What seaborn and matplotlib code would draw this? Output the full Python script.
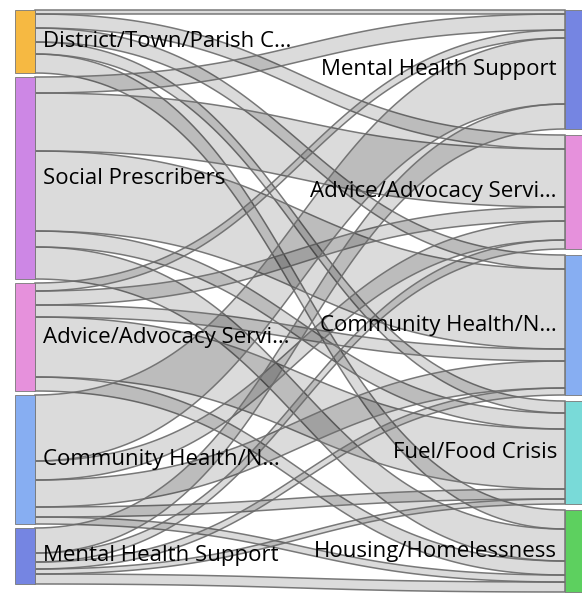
import numpy as np
import matplotlib
matplotlib.use("Agg")
import matplotlib.pyplot as plt
import seaborn as sns

# ---- data ----
sources = ["District/Town/Parish C…", "Social Prescribers", "Advice/Advocacy Servi…",
           "Community Health/N…", "Mental Health Support"]
targets = ["Mental Health Support", "Advice/Advocacy Servi…", "Community Health/N…",
           "Fuel/Food Crisis", "Housing/Homelessness"]
# rows: sources, cols: targets (same order as `targets`)
flow_dtp = [4, 14, 14, 12, 19]
flow_sp = [16, 58, 80, 16, 32]
flow_aas = [8, 14, 12, 60, 14]
flow_chn = [66, 19, 27, 10, 7]
flow_mhs = [25, 9, 7, 5, 10]
flows = [flow_dtp, flow_sp, flow_aas, flow_chn, flow_mhs]

source_colors = ["#F6B942", "#CD87E5", "#E691DC", "#87AEF2", "#7585E2"]
target_colors = ["#7585E2", "#E691DC", "#87AEF2", "#79DAD8", "#5DD05F"]

sns.set_theme(style="white")
plt.rcParams['font.family'] = ['Open Sans', 'DejaVu Sans']

W, H = 582, 593
fig = plt.figure(figsize=(W / 100, H / 100), dpi=100)
ax = fig.add_axes([0, 0, 1, 1])
ax.set_xlim(0, W)
ax.set_ylim(H, 0)
ax.axis("off")

M = np.array(flows, dtype=float)
scale = 1.0
top0 = 10
lpad, rpad = 4, 6
lx0, lx1 = 15, 35
rx0, rx1 = 565, 585

src_tot = M.sum(axis=1) * scale
tgt_tot = M.sum(axis=0) * scale
src_y = top0 + np.concatenate([[0], np.cumsum(src_tot + lpad)[:-1]])
tgt_y = top0 + np.concatenate([[0], np.cumsum(tgt_tot + rpad)[:-1]])

src_off = src_y.copy()
tgt_off = tgt_y.copy()
src_start = np.zeros_like(M)
tgt_start = np.zeros_like(M)
for i in range(len(sources)):
    for j in range(len(targets)):
        src_start[i, j] = src_off[i]
        src_off[i] += M[i, j] * scale
for j in range(len(targets)):
    for i in range(len(sources)):
        tgt_start[i, j] = tgt_off[j]
        tgt_off[j] += M[i, j] * scale

t = np.linspace(0, 1, 100)
xm = (lx1 + rx0) / 2
xs = (1 - t) ** 3 * lx1 + 3 * (1 - t) ** 2 * t * xm + 3 * (1 - t) * t ** 2 * xm + t ** 3 * rx0
def ycurve(y0, y1):
    return (1 - t) ** 3 * y0 + 3 * (1 - t) ** 2 * t * y0 + 3 * (1 - t) * t ** 2 * y1 + t ** 3 * y1

for i in range(len(sources)):
    for j in range(len(targets)):
        v = M[i, j] * scale
        if v <= 0:
            continue
        ytop = ycurve(src_start[i, j], tgt_start[i, j])
        ybot = ycurve(src_start[i, j] + v, tgt_start[i, j] + v)
        px = np.concatenate([xs, xs[::-1]])
        py = np.concatenate([ytop, ybot[::-1]])
        ax.fill(px, py, facecolor=(0, 0, 0, 0.14), edgecolor=(0.42, 0.42, 0.42, 0.9),
                linewidth=1.1, zorder=1)

for i, name in enumerate(sources):
    ax.bar(lx0, src_tot[i], width=lx1 - lx0, bottom=src_y[i], align="edge",
           color=source_colors[i], edgecolor="#777777", linewidth=0.6, zorder=3)
    ax.text(lx1 + 8, src_y[i] + src_tot[i] / 2, name, ha="left", va="center",
            fontsize=16, color="#000000", zorder=4)
for j, name in enumerate(targets):
    ax.bar(rx0, tgt_tot[j], width=rx1 - rx0, bottom=tgt_y[j], align="edge",
           color=target_colors[j], edgecolor="#777777", linewidth=0.6, zorder=3)
    ax.text(rx0 - 8, tgt_y[j] + tgt_tot[j] / 2, name, ha="right", va="center",
            fontsize=16, color="#000000", zorder=4)

fig.savefig("out.png", dpi=100)
